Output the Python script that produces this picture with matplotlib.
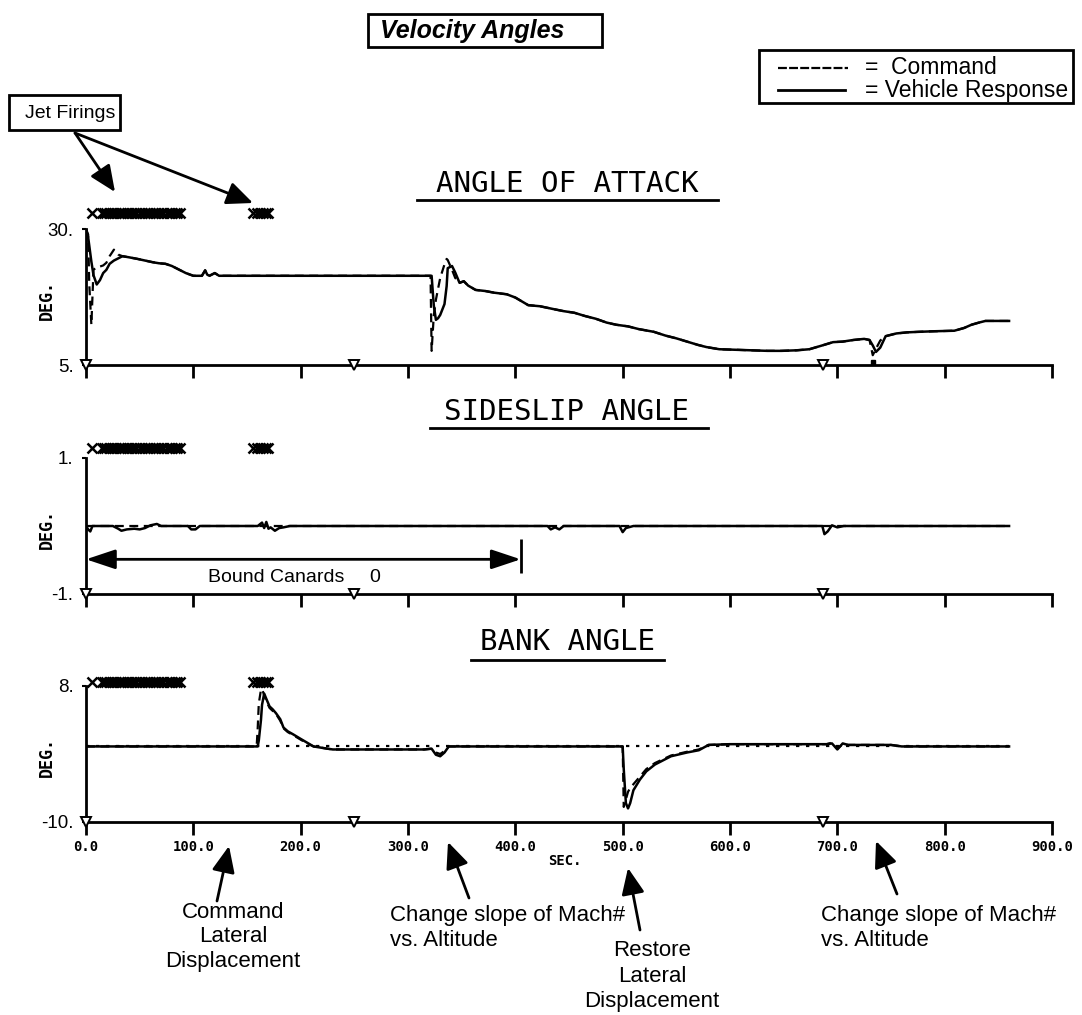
import matplotlib.pyplot as plt
from matplotlib.patches import Rectangle, FancyArrowPatch
from matplotlib.lines import Line2D

# --- data (time in sec) ---
sec_ticks = [0, 100, 200, 300, 400, 500, 600, 700, 800, 900]
sec_labels = ["0.0", "100.0", "200.0", "300.0", "400.0", "500.0", "600.0", "700.0", "800.0", "900.0"]

jet_times = [5.5, 15, 17, 19, 21, 24, 26, 28, 31, 33, 35, 38, 40, 42, 45, 47, 50, 52, 55,
             57, 60, 62, 65, 67, 70, 72, 75, 78, 80, 83, 85, 88,
             156, 159, 162, 165, 168, 170]
marker_times = [0, 250, 687]

aoa_time = [0, 2, 3, 5, 7, 10, 13, 16, 19, 22,
            26, 30, 34, 40, 48, 55, 62, 68, 74, 80,
            87, 93, 100, 108, 111, 113, 115, 120, 124, 200,
            321, 322, 324, 326, 328, 330, 334, 336, 337, 341,
            344, 348, 352, 356, 363, 372, 380, 392, 400, 412,
            423, 435, 445, 455, 465, 475, 485, 494, 505, 515,
            529, 540, 550, 560, 570, 578, 590, 605, 620, 635,
            648, 662, 674, 686, 696, 705, 715, 725, 730, 733,
            736, 740, 745, 755, 765, 776, 790, 809, 818, 825,
            832, 838, 860]
aoa_response = [30, 28.5, 27, 24, 21.5, 19.8, 20.6, 21.9, 22.5, 23.6,
                24.2, 24.6, 25.0, 24.8, 24.5, 24.2, 23.9, 23.7, 23.6, 23.2,
                22.5, 21.9, 21.4, 21.4, 22.4, 21.6, 21.4, 21.9, 21.4, 21.4,
                21.4, 21.4, 16.0, 13.3, 13.6, 14.2, 16.2, 19.5, 22.8, 23.2,
                22.0, 20.1, 20.4, 19.6, 18.8, 18.6, 18.3, 18.0, 17.4, 16.0,
                15.8, 15.3, 14.9, 14.6, 14.0, 13.5, 12.8, 12.4, 12.1, 11.6,
                11.1, 10.4, 9.9, 9.3, 8.7, 8.3, 7.9, 7.8, 7.7, 7.6,
                7.6, 7.7, 7.9, 8.6, 9.2, 9.3, 9.6, 9.8, 9.6, 8.6,
                7.4, 8.2, 10.3, 10.8, 11.0, 11.1, 11.2, 11.3, 11.8, 12.4,
                12.8, 13.1, 13.1]
aoa_command = [30, 29, 20, 12.4, 22.5, 23.0, 23.1, 23.3, 23.8, 25.0,
               26.2, 25.3, 25.0, 24.8, 24.5, 24.2, 23.9, 23.7, 23.6, 23.2,
               22.5, 21.9, 21.4, 21.4, 22.4, 21.6, 21.4, 21.9, 21.4, 21.4,
               21.4, 7.6, 14.0, 17.0, 19.0, 21.0, 23.5, 24.5, 24.3, 22.5,
               21.0, 20.1, 20.4, 19.6, 18.8, 18.6, 18.3, 18.0, 17.4, 16.0,
               15.8, 15.3, 14.9, 14.6, 14.0, 13.5, 12.8, 12.4, 12.1, 11.6,
               11.1, 10.4, 9.9, 9.3, 8.7, 8.3, 7.9, 7.8, 7.7, 7.6,
               7.6, 7.7, 7.9, 8.6, 9.2, 9.3, 9.6, 9.8, 9.6, 6.8,
               8.0, 9.5, 10.3, 10.8, 11.0, 11.1, 11.2, 11.3, 11.8, 12.4,
               12.8, 13.1, 13.1]

beta_time = [0, 2, 4, 6, 10, 25, 30, 33, 38, 45,
             50, 55, 60, 66, 70, 74, 80, 95, 98, 102,
             106, 160, 164, 166, 168, 170, 172, 176, 180, 184,
             190, 300, 430, 433, 437, 441, 445, 497, 500, 503,
             510, 520, 686, 688, 691, 695, 700, 706, 860]
beta_response = [0, -0.05, -0.08, 0, 0, 0, -0.04, -0.07, -0.05, -0.04,
                 -0.05, -0.03, 0.01, 0.03, 0, 0, 0, 0, -0.05, -0.05,
                 0, 0, 0.05, -0.03, 0.06, -0.04, -0.02, -0.07, -0.03, -0.02,
                 0, 0, 0, -0.05, -0.02, -0.05, 0, 0, -0.09, -0.03,
                 0, 0, 0, -0.12, -0.08, 0.01, -0.02, 0, 0]
beta_cmd_time = [0, 860]
beta_command = [0, 0]
canard_end = 405

bank_time = [0, 159, 160, 161, 163, 164, 166, 168, 171, 174,
             177, 181, 184, 188, 193, 200, 206, 212, 225, 230,
             315, 322, 326, 330, 334, 338, 500, 501, 503, 505,
             507, 510, 516, 522, 530, 545, 560, 571, 580, 600,
             690, 695, 700, 705, 710, 750, 760, 860]
bank_response = [0, 0, 0, 0.8, 3.5, 5.5, 7.0, 6.3, 5.3, 4.9,
                 4.4, 3.6, 2.5, 2.0, 1.6, 1.0, 0.5, 0.0, -0.3, -0.4,
                 -0.4, -0.3, -1.1, -1.3, -0.8, 0, 0, -3.0, -7.5, -8.2,
                 -7.5, -5.8, -4.4, -3.3, -2.4, -1.3, -0.8, -0.5, 0.2, 0.3,
                 0.3, 0.4, -0.4, 0.4, 0.2, 0.2, 0, 0]
bank_command = [0, 0, 2.5, 5.7, 7.5, 7.6, 6.8, 6.0, 5.1, 4.7,
                4.3, 3.4, 2.4, 1.9, 1.5, 0.9, 0.4, 0.0, -0.3, -0.4,
                -0.4, -0.3, -0.8, -1.0, -0.6, 0, 0, -8.0, -7.0, -6.0,
                -5.5, -5.0, -4.0, -3.0, -2.2, -1.2, -0.7, -0.4, 0.2, 0.3,
                0.3, 0.5, -0.3, 0.3, 0.2, 0.2, 0, 0]
bank_zero_time = [0, 860]
bank_zero = [0, 0]

W, H = 1082, 1015
MONO = "DejaVu Sans Mono"
SANS = "Liberation Sans"


def fx(x):
    return x / W


def fy(y):
    return 1 - y / H


fig = plt.figure(figsize=(W / 100, H / 100), dpi=100)


def panel(top, bottom, ylim, ylabels, jet_y, title, title_y, ul_x0, ul_x1, ul_y):
    ax = fig.add_axes([fx(86), fy(bottom), fx(1052) - fx(86), (bottom - top) / H])
    ax.set_xlim(0, 900)
    ax.set_ylim(*ylim)
    for s in ["top", "right"]:
        ax.spines[s].set_visible(False)
    for s in ["left", "bottom"]:
        ax.spines[s].set_linewidth(2)
    ax.set_xticks(sec_ticks)
    ax.set_xticklabels([])
    ax.tick_params(axis="x", direction="out", length=9, width=2)
    ax.set_yticks(list(ylim))
    ax.set_yticklabels(ylabels, fontfamily=SANS, fontsize=13.5)
    ax.tick_params(axis="y", direction="out", length=3, width=1.5, pad=6)
    ax.plot(jet_times, [jet_y] * len(jet_times), "x", color="k", ms=7, mew=1.8,
            clip_on=False)
    ax.plot(marker_times, [ylim[0]] * len(marker_times), "v", ms=7, mfc="white",
            mec="k", mew=1.4, clip_on=False, zorder=6)
    fig.text(fx(567), fy(title_y), title, ha="center", va="center",
             fontfamily=MONO, fontsize=21)
    fig.add_artist(Line2D([fx(ul_x0), fx(ul_x1)], [fy(ul_y), fy(ul_y)], color="k", lw=2))
    fig.text(fx(47), fy((top + bottom) / 2 + 3), "DEG.", rotation=90, ha="center",
             va="center", fontfamily=MONO, fontweight="bold", fontsize=12)
    return ax


ax1 = panel(229, 365, (5, 30), ["5.", "30."], 32.9, "ANGLE OF ATTACK", 184, 417, 718, 200)
ax1.plot(aoa_time, aoa_command, color="k", lw=1.6, dashes=(4, 2.5))
ax1.plot(aoa_time, aoa_response, color="k", lw=1.8)
ax1.plot([733], [5.5], "s", color="k", ms=3)

ax2 = panel(458, 594, (-1, 1), ["-1.", "1."], 1.15, "SIDESLIP ANGLE", 412, 430, 708, 428)
ax2.plot(beta_cmd_time, beta_command, color="k", lw=1.6, dashes=(4, 2.5))
ax2.plot(beta_time, beta_response, color="k", lw=1.8)
ax2.annotate("", xy=(0, -0.49), xytext=(canard_end, -0.49),
             arrowprops=dict(arrowstyle="<|-|>,head_length=0.9,head_width=0.3",
                             mutation_scale=20, lw=2, color="k", shrinkA=0, shrinkB=0))
ax2.vlines(canard_end, -0.69, -0.19, color="k", lw=2)
ax2.text(177, -0.76, "Bound Canards", ha="center", va="center", fontfamily=SANS, fontsize=14)
ax2.text(269, -0.76, "0", ha="center", va="center", fontfamily=SANS, fontsize=14)

ax3 = panel(686, 822, (-10, 8), ["-10.", "8."], 8.5, "BANK ANGLE", 642, 471, 664, 660)
ax3.plot(bank_zero_time, bank_zero, color="k", lw=1.6, ls=(0, (1.5, 3)))
ax3.plot(bank_time, bank_command, color="k", lw=1.6, dashes=(4, 2.5))
ax3.plot(bank_time, bank_response, color="k", lw=1.8)
ax3.set_xticklabels(sec_labels, fontfamily=MONO, fontweight="bold", fontsize=10)
ax3.tick_params(axis="x", pad=4)
fig.text(fx(565), fy(861), "SEC.", ha="center", va="center", fontfamily=MONO,
         fontweight="bold", fontsize=10)


def box(x0, y0, x1, y1):
    fig.add_artist(Rectangle((fx(x0), fy(y1)), fx(x1) - fx(x0), fy(y0) - fy(y1),
                             transform=fig.transFigure, fc="white", ec="k", lw=2))


def arrow(x0, y0, x1, y1):
    fig.add_artist(FancyArrowPatch((fx(x0), fy(y0)), (fx(x1), fy(y1)),
                                   transform=fig.transFigure,
                                   arrowstyle="-|>,head_length=0.8,head_width=0.35",
                                   mutation_scale=20, lw=2, color="k",
                                   shrinkA=0, shrinkB=0))


# title box
box(368, 14, 602, 47)
fig.text(fx(380), fy(31), "Velocity Angles", ha="left", va="center", fontfamily=SANS,
         fontweight="bold", fontstyle="italic", fontsize=18)

# legend box
box(759, 50, 1073, 103)
fig.add_artist(Line2D([fx(778), fx(848)], [fy(68), fy(68)], color="k", lw=1.6, dashes=(4, 1)))
fig.add_artist(Line2D([fx(778), fx(845)], [fy(90), fy(90)], color="k", lw=2))
fig.text(fx(865), fy(68), "=  Command", ha="left", va="center", fontfamily=SANS, fontsize=16.5)
fig.text(fx(865), fy(90), "= Vehicle Response", ha="left", va="center", fontfamily=SANS,
         fontsize=16.5)

# jet firings callout
box(9, 95, 120, 130)
fig.text(fx(25), fy(113), "Jet Firings", ha="left", va="center", fontfamily=SANS, fontsize=14)
arrow(75, 133, 115, 192)
arrow(75, 133, 253, 203)

# event annotations under the time axis
fig.text(fx(233), fy(937), "Command\nLateral\nDisplacement", ha="center", va="center",
         fontfamily=SANS, fontsize=16, linespacing=1.25)
arrow(217, 901, 229, 846)
fig.text(fx(390), fy(928), "Change slope of Mach#\nvs. Altitude", ha="left", va="center",
         fontfamily=SANS, fontsize=16, linespacing=1.25)
arrow(469, 898, 448, 842)
fig.text(fx(652), fy(976), "Restore\nLateral\nDisplacement", ha="center", va="center",
         fontfamily=SANS, fontsize=16, linespacing=1.25)
arrow(640, 930, 628, 868)
fig.text(fx(821), fy(928), "Change slope of Mach#\nvs. Altitude", ha="left", va="center",
         fontfamily=SANS, fontsize=16, linespacing=1.25)
arrow(897, 894, 876, 841)

fig.savefig("out.png", dpi=100)
